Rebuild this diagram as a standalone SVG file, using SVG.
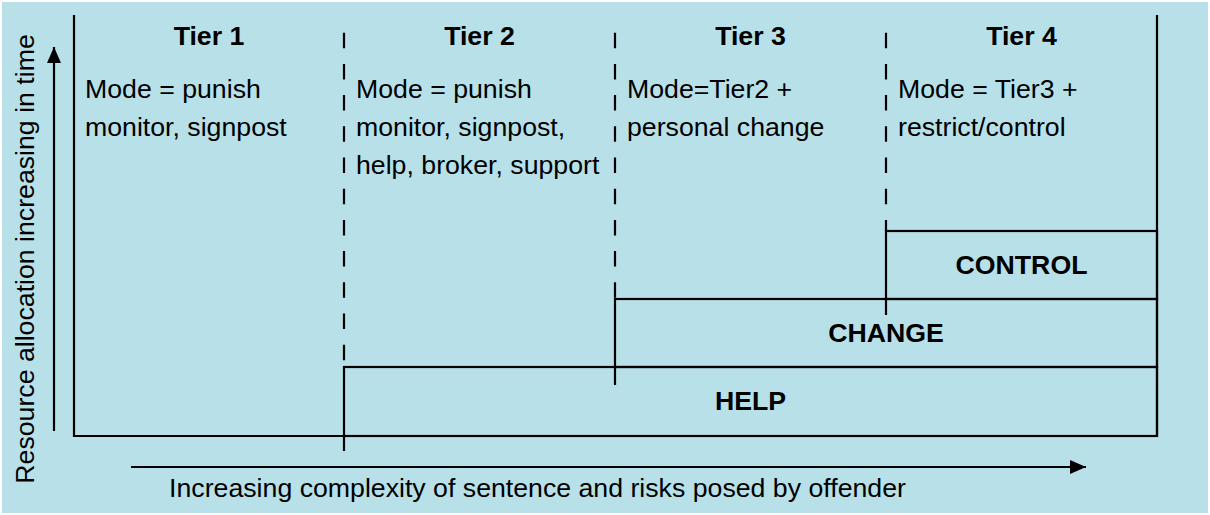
<svg xmlns="http://www.w3.org/2000/svg" width="1210" height="515" viewBox="0 0 1210 515">
  <style>
    .t { font-family: "Liberation Sans", Arial, sans-serif; font-size: 26.7px; fill: #000; }
    .b { font-weight: bold; text-anchor: middle; }
    .ln { stroke: #000; stroke-width: 2.2; fill: none; }
    .box { stroke: #000; stroke-width: 2.2; fill: none; }
    .dash { stroke: #000; stroke-width: 2.2; fill: none; stroke-dasharray: 15.5 15.7; }
  </style>
  <defs>
    <marker id="ah" viewBox="0 0 16 14" refX="16" refY="7" markerWidth="16" markerHeight="14" markerUnits="userSpaceOnUse" orient="auto">
      <path d="M0,0 L16,7 L0,14 Z" fill="#000"/>
    </marker>
  </defs>
  <rect x="0" y="0" width="1210" height="515" fill="#ffffff"/>
  <rect x="2" y="2" width="1206" height="511" fill="#B8E0E8"/>

  <g id="frame">
    <path class="ln" d="M74,15 V436 H1157 V15"/>
  </g>

  <g id="connectors">
    <line class="dash" x1="344" y1="32.7" x2="344" y2="367"/>
    <line class="ln" x1="344" y1="436" x2="344" y2="451"/>
    <line class="dash" x1="615" y1="32.7" x2="615" y2="299"/>
    <line class="ln" x1="615" y1="367" x2="615" y2="385"/>
    <line class="dash" x1="886" y1="32.7" x2="886" y2="231"/>
    <line class="ln" x1="886" y1="299" x2="886" y2="315"/>
    <line class="ln" x1="54" y1="431" x2="54" y2="47" marker-end="url(#ah)"/>
    <line class="ln" x1="131" y1="467" x2="1086" y2="467" marker-end="url(#ah)"/>
  </g>

  <g id="help">
    <rect class="box" x="344" y="367" width="813" height="69"/>
    <text class="t b" x="750.5" y="410">HELP</text>
  </g>
  <g id="change">
    <rect class="box" x="615" y="299" width="542" height="68"/>
    <text class="t b" x="886" y="342">CHANGE</text>
  </g>
  <g id="control">
    <rect class="box" x="886" y="231" width="271" height="68"/>
    <text class="t b" x="1021.5" y="274">CONTROL</text>
  </g>

  <g id="tier1">
    <text class="t b" x="209" y="45">Tier 1</text>
    <text class="t" x="85" y="98">Mode = punish</text>
    <text class="t" x="85" y="136">monitor, signpost</text>
  </g>
  <g id="tier2">
    <text class="t b" x="479.5" y="45">Tier 2</text>
    <text class="t" x="356" y="98">Mode = punish</text>
    <text class="t" x="356" y="136">monitor, signpost,</text>
    <text class="t" x="356" y="174">help, broker, support</text>
  </g>
  <g id="tier3">
    <text class="t b" x="750.5" y="45">Tier 3</text>
    <text class="t" x="627" y="98">Mode=Tier2 +</text>
    <text class="t" x="627" y="136">personal change</text>
  </g>
  <g id="tier4">
    <text class="t b" x="1021.5" y="45">Tier 4</text>
    <text class="t" x="898" y="98">Mode = Tier3 +</text>
    <text class="t" x="898" y="136">restrict/control</text>
  </g>

  <g id="axis-labels">
    <text class="t" text-anchor="middle" transform="translate(33.5,259) rotate(-90)">Resource allocation increasing in time</text>
    <text class="t" text-anchor="middle" x="537.5" y="497">Increasing complexity of sentence and risks posed by offender</text>
  </g>
</svg>
